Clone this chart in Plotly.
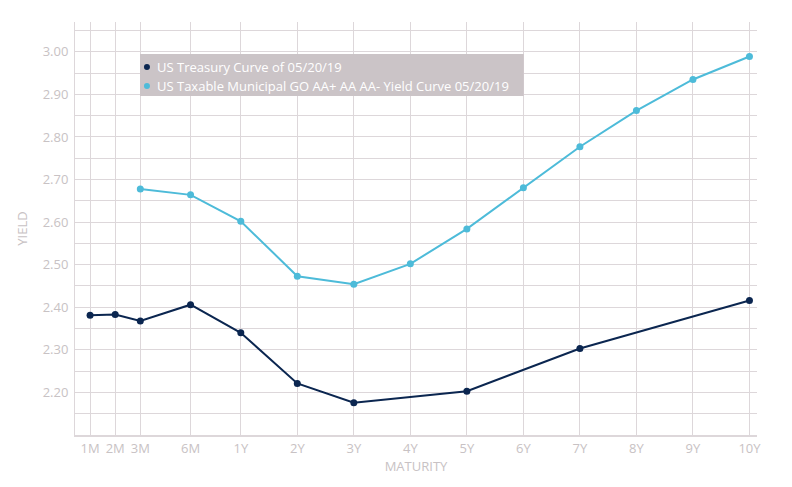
import plotly.graph_objects as go

# ---- data ----
maturities = ["1M", "2M", "3M", "6M", "1Y", "2Y", "3Y", "4Y", "5Y", "6Y", "7Y", "8Y", "9Y", "10Y"]
# non-uniform axis slots for the maturity scale
axis_slot = [0, 1, 2, 4, 6, 8.25, 10.5, 12.75, 15, 17.25, 19.5, 21.75, 24, 26.25]
treasury = [2.381, 2.383, 2.368, 2.406, 2.340, 2.221, 2.176, None, 2.203, None, 2.303, None, None, 2.416]
municipal = [None, None, 2.678, 2.664, 2.602, 2.473, 2.454, 2.502, 2.584, 2.681, 2.777, 2.862, 2.935, 2.989]
y_ticks = [2.20, 2.30, 2.40, 2.50, 2.60, 2.70, 2.80, 2.90, 3.00]
series_names = ["US Treasury Curve of 05/20/19",
                "US Taxable Municipal GO AA+ AA AA- Yield Curve 05/20/19"]

NAVY = "#0b2650"
SKY = "#4dbbd9"
GRID = "#ddd7da"
LABEL = "#c8c2c4"
LEGEND_BG = "#cbc4c7"
FONT = "Open Sans"

fig = go.Figure()
fig.add_trace(go.Scatter(x=axis_slot, y=municipal, mode="lines+markers", connectgaps=True,
                         name=series_names[1],
                         line=dict(color=SKY, width=2), marker=dict(color=SKY, size=7),
                         showlegend=False, hoverinfo="skip"))
fig.add_trace(go.Scatter(x=axis_slot, y=treasury, mode="lines+markers", connectgaps=True,
                         name=series_names[0],
                         line=dict(color=NAVY, width=2), marker=dict(color=NAVY, size=7),
                         showlegend=False, hoverinfo="skip"))

# ---- hand-made legend box ----
box_x0, box_x1, box_y0, box_y1 = 0.0953, 0.658, 0.8208, 0.9225
fig.add_shape(type="rect", xref="paper", yref="paper", x0=box_x0, x1=box_x1, y0=box_y0, y1=box_y1,
              fillcolor=LEGEND_BG, line=dict(width=0), layer="above")
row_y = [0.891, 0.845]
for name, col, ry in zip(series_names, [NAVY, SKY], row_y):
    fig.add_shape(type="circle", xref="paper", yref="paper", xsizemode="pixel", ysizemode="pixel",
                  xanchor=0.1055, yanchor=ry, x0=-3, x1=3, y0=-3, y1=3,
                  fillcolor=col, line=dict(width=0), layer="above")
    fig.add_annotation(xref="paper", yref="paper", x=0.1175, y=ry, xanchor="left", yanchor="middle",
                       text=name, showarrow=False,
                       font=dict(family=FONT, size=13, color="white"))

fig.update_layout(
    width=792, height=487,
    margin=dict(l=67, r=43, t=14, b=60),
    paper_bgcolor="white", plot_bgcolor="white",
    font=dict(family=FONT, color=LABEL, size=13),
    showlegend=False,
    xaxis=dict(range=[-0.6, 26.55], tickmode="array", tickvals=axis_slot, ticktext=maturities,
               showgrid=True, gridcolor=GRID, gridwidth=1, zeroline=False,
               showline=True, linecolor=GRID, linewidth=2,
               tickfont=dict(size=13, color=LABEL),
               title=dict(text="MATURITY", font=dict(size=13, color=LABEL), standoff=3)),
    yaxis=dict(range=[2.10, 3.07], tickmode="array", tickvals=y_ticks,
               ticktext=[f"{v:.2f}" for v in y_ticks],
               showgrid=True, gridcolor=GRID, gridwidth=1, zeroline=False,
               minor=dict(tickmode="linear", tick0=2.15, dtick=0.1, showgrid=True,
                          gridcolor=GRID, gridwidth=1),
               showline=True, linecolor=GRID, linewidth=1,
               ticklabelstandoff=3,
               tickfont=dict(size=13, color=LABEL),
               title=dict(text="YIELD", font=dict(size=13, color=LABEL), standoff=12)),
)

fig.write_html("out.html")
